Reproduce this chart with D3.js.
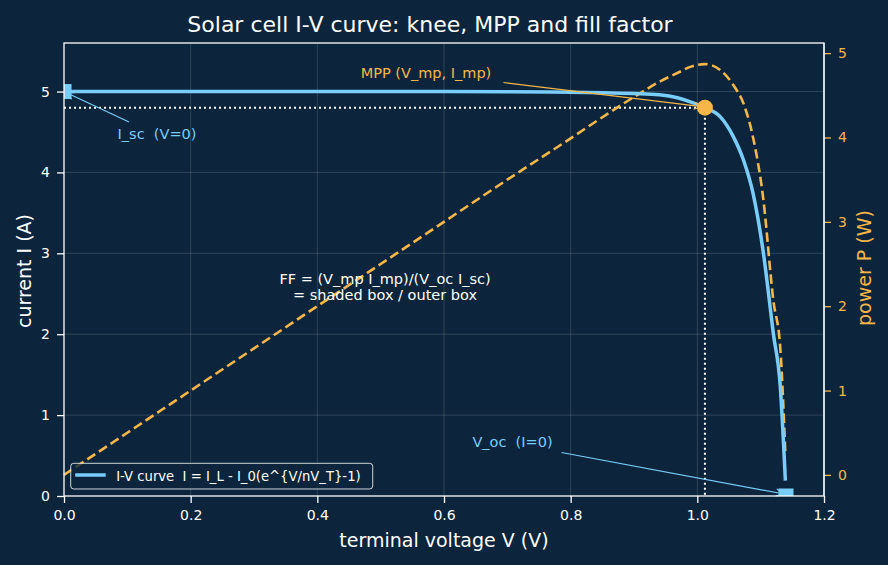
<!DOCTYPE html>
<html>
<head>
<meta charset="utf-8">
<script src="https://cdn.jsdelivr.net/npm/d3@7"></script>
<style>
	body{margin:0;background:#0c253c;}
	svg{display:block;font-family:'DejaVu Sans',sans-serif;}
	text{white-space:pre;}
</style>
</head>
<body>
<svg id="chart" width="888" height="565"></svg>
<script>
// values
const volts   = [0, 0.1, 0.2, 0.3, 0.4, 0.5, 0.6, 0.7, 0.8, 0.85, 0.9, 0.94, 0.97, 0.99, 1.012, 1.036, 1.057, 1.073, 1.088, 1.104, 1.12, 1.131, 1.139]
const current = [5.0, 5.0, 5.0, 5.0, 5.0, 5.0, 5.0, 4.998, 4.99, 4.985, 4.975, 4.96, 4.92, 4.87, 4.80, 4.69, 4.44, 4.15, 3.74, 3.02, 2.01, 1.35, 0.19]
const power   = [0, 0.5, 1.0, 1.5, 2.0, 2.5, 3.0, 3.5, 3.99, 4.24, 4.48, 4.66, 4.77, 4.84, 4.87, 4.80, 4.62, 4.40, 4.00, 3.28, 2.07, 1.50, 0.25]
const mpp = {v:1.012, i:4.80}
const isc = 5.0
const voc = 1.14
const xTicks = [0, 0.2, 0.4, 0.6, 0.8, 1.0, 1.2]
const iTicks = [0, 1, 2, 3, 4, 5]
const pTicks = [0, 1, 2, 3, 4, 5]

const blue = '#79cdfb'
const orange = '#f7b648'
const bg = '#0c253c'

const margin = {top:43, right:64, bottom:69, left:64}
const width = 888 - margin.left - margin.right
const height = 565 - margin.top - margin.bottom

const svg = d3.select('#chart')
svg.append('rect').attr('width',888).attr('height',565).attr('fill',bg)

const defs = svg.append('defs')
defs.append('clipPath').attr('id','plotclip')
	.append('rect').attr('width',width).attr('height',height)
const arrow = (id,col)=>{
	defs.append('marker')
		.attr('id',id)
		.attr('viewBox','-9 -5 10 10')
		.attr('refX',0).attr('refY',0)
		.attr('markerWidth',10).attr('markerHeight',10)
		.attr('markerUnits','userSpaceOnUse')
		.attr('orient','auto')
		.append('path')
		.attr('d','M-8,-3.5L0,0L-8,3.5')
		.attr('fill','none')
		.attr('stroke',col)
		.attr('stroke-width',1.2)
}
arrow('arrBlue',blue)
arrow('arrOrange',orange)

const xScale = d3.scaleLinear().domain([0,1.2]).range([0,width])
const yScale = d3.scaleLinear().domain([0,5.6]).range([height,0])
const pScale = d3.scaleLinear().domain([-0.25,5.12]).range([height,0])

const chart = svg.append('g').attr('transform',`translate(${margin.left},${margin.top})`)

// grid
chart.append('g')
	.selectAll('line')
	.data(xTicks.slice(1,-1))
	.enter().append('line')
	.attr('x1',d=>xScale(d)).attr('x2',d=>xScale(d))
	.attr('y1',0).attr('y2',height)
	.attr('stroke','#ffffff').attr('stroke-opacity',0.18).attr('stroke-width',0.8)
chart.append('g')
	.selectAll('line')
	.data(iTicks.slice(1))
	.enter().append('line')
	.attr('x1',0).attr('x2',width)
	.attr('y1',d=>yScale(d)).attr('y2',d=>yScale(d))
	.attr('stroke','#ffffff').attr('stroke-opacity',0.18).attr('stroke-width',0.8)

// dotted MPP guides
chart.append('line')
	.attr('x1',0).attr('x2',xScale(mpp.v))
	.attr('y1',yScale(mpp.i)).attr('y2',yScale(mpp.i))
	.attr('stroke','#ffffff').attr('stroke-width',2).attr('stroke-dasharray','2,3')
chart.append('line')
	.attr('x1',xScale(mpp.v)).attr('x2',xScale(mpp.v))
	.attr('y1',yScale(mpp.i)).attr('y2',height)
	.attr('stroke','#ffffff').attr('stroke-width',2).attr('stroke-dasharray','2,3')

const rows = volts.map((v,k)=>({v:v, i:current[k], p:power[k]}))

// power curve
chart.append('path')
	.datum(rows)
	.attr('fill','none')
	.attr('stroke',orange)
	.attr('stroke-width',2.6)
	.attr('stroke-dasharray','9.5,4.5')
	.attr('d',d3.line().x(d=>xScale(d.v)).y(d=>pScale(d.p)).curve(d3.curveMonotoneX))

// I-V curve
chart.append('path')
	.datum(rows)
	.attr('fill','none')
	.attr('stroke',blue)
	.attr('stroke-width',3.5)
	.attr('d',d3.line().x(d=>xScale(d.v)).y(d=>yScale(d.i)).curve(d3.curveMonotoneX))

// end markers (clipped by axes)
const marks = chart.append('g').attr('clip-path','url(#plotclip)')
marks.selectAll('rect')
	.data([{v:0,i:isc},{v:voc,i:0}])
	.enter().append('rect')
	.attr('x',d=>xScale(d.v)-7.5).attr('y',d=>yScale(d.i)-7.5)
	.attr('width',15).attr('height',15)
	.attr('fill',blue)

chart.append('circle')
	.attr('cx',xScale(mpp.v)).attr('cy',yScale(mpp.i))
	.attr('r',8).attr('fill',orange)

// annotations: text centre/baseline, arrow start, arrow tip
const note = (txt,t,s,tip,col,mk)=>{
	chart.append('line')
		.attr('x1',s[0]).attr('y1',s[1])
		.attr('x2',tip[0]).attr('y2',tip[1])
		.attr('stroke',col).attr('stroke-width',1.2)
		.attr('marker-end',`url(#${mk})`)
	chart.append('text')
		.attr('x',t[0]).attr('y',t[1])
		.attr('text-anchor','middle')
		.attr('fill',col)
		.attr('font-size',14.5)
		.text(txt)
}
note('I_sc  (V=0)',[93,96],[65,79],[xScale(0)+2,yScale(isc)+1],blue,'arrBlue')
note('V_oc  (I=0)',[448.5,404],[497.5,409.5],[xScale(voc)-2,height-2],blue,'arrBlue')
note('MPP (V_mp, I_mp)',[362,35],[439.5,39.5],[xScale(mpp.v)-3,yScale(mpp.i)-1],orange,'arrOrange')

chart.append('text')
	.attr('x',321).attr('y',240.5)
	.attr('text-anchor','middle')
	.attr('fill','#ffffff')
	.attr('font-size',14.5)
	.text('FF = (V_mp I_mp)/(V_oc I_sc)')
chart.append('text')
	.attr('x',321).attr('y',256.5)
	.attr('text-anchor','middle')
	.attr('fill','#ffffff')
	.attr('font-size',14.5)
	.text('= shaded box / outer box')

// axes
const axisX = chart.append('g')
	.attr('transform',`translate(0,${height})`)
	.call(d3.axisBottom(xScale).tickValues(xTicks).tickFormat(d3.format('.1f')).tickSize(7).tickPadding(7).tickSizeOuter(0))
const axisY = chart.append('g')
	.call(d3.axisLeft(yScale).tickValues(iTicks).tickFormat(d3.format('d')).tickSize(7).tickPadding(7).tickSizeOuter(0))
const axisP = chart.append('g')
	.attr('transform',`translate(${width},0)`)
	.call(d3.axisRight(pScale).tickValues(pTicks).tickFormat(d3.format('d')).tickSize(7).tickPadding(7).tickSizeOuter(0))

for(let a of [axisX,axisY,axisP]){
	a.select('.domain').remove()
	a.selectAll('text').attr('font-size',14).attr('font-family','DejaVu Sans')
}
axisX.selectAll('line').attr('stroke','#ffffff').attr('stroke-width',1.3)
axisX.selectAll('text').attr('fill','#ffffff')
axisY.selectAll('line').attr('stroke','#ffffff').attr('stroke-width',1.3)
axisY.selectAll('text').attr('fill','#ffffff')
axisP.selectAll('line').attr('stroke',orange).attr('stroke-width',1.3)
axisP.selectAll('text').attr('fill',orange)

// frame
chart.append('rect')
	.attr('width',width).attr('height',height)
	.attr('fill','none')
	.attr('stroke','#ffffff')
	.attr('stroke-width',1.3)
chart.append('line')
	.attr('x1',width).attr('x2',width).attr('y1',0).attr('y2',height)
	.attr('stroke','#dff2ff').attr('stroke-width',1.3)

// legend
const legend = chart.append('g').attr('transform','translate(6.7,420.3)')
legend.append('rect')
	.attr('width',302).attr('height',25.7).attr('rx',3)
	.attr('fill',bg).attr('fill-opacity',0.8)
	.attr('stroke','#ffffff').attr('stroke-opacity',0.8).attr('stroke-width',1)
legend.append('line')
	.attr('x1',4.5).attr('x2',35).attr('y1',11.7).attr('y2',11.7)
	.attr('stroke',blue).attr('stroke-width',3.5)
legend.append('text')
	.attr('x',45.5).attr('y',18.2)
	.attr('fill','#ffffff').attr('font-size',13.2)
	.text('I-V curve  I = I_L - I_0(e^{V/nV_T}-1)')

// titles
svg.append('text')
	.attr('x',430).attr('y',32)
	.attr('text-anchor','middle')
	.attr('fill','#ffffff').attr('font-size',22)
	.text('Solar cell I-V curve: knee, MPP and fill factor')
svg.append('text')
	.attr('x',444).attr('y',547)
	.attr('text-anchor','middle')
	.attr('fill','#ffffff').attr('font-size',19)
	.text('terminal voltage V (V)')
svg.append('text')
	.attr('transform','translate(31,271) rotate(-90)')
	.attr('text-anchor','middle')
	.attr('fill','#ffffff').attr('font-size',19)
	.text('current I (A)')
svg.append('text')
	.attr('transform','translate(871,268) rotate(-90)')
	.attr('text-anchor','middle')
	.attr('fill',orange).attr('font-size',19)
	.text('power P (W)')
</script>
</body>
</html>
